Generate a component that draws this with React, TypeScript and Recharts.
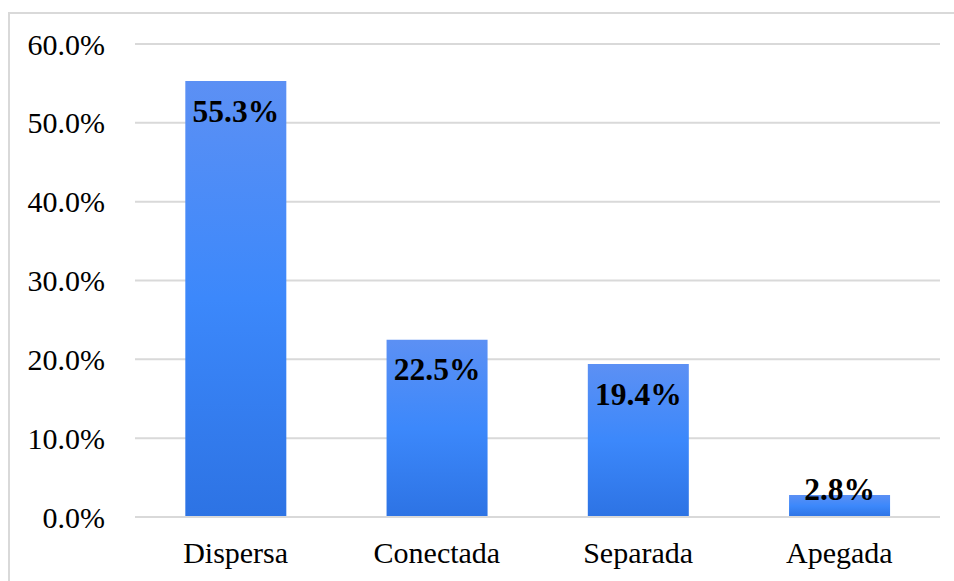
import { BarChart, Bar, XAxis, YAxis, CartesianGrid, LabelList } from "recharts";

const categories = ["Dispersa", "Conectada", "Separada", "Apegada"];
const shares = [55.3, 22.5, 19.4, 2.8];
const yTicks = [0, 10, 20, 30, 40, 50, 60];

const data = categories.map((name, i) => ({ name, value: shares[i] }));

const FONT = "'Liberation Serif', 'Times New Roman', serif";

function YTick(props: any) {
  const { x, y, payload } = props;
  return (
    <text x={x} y={y} textAnchor="end" dominantBaseline="central" fontFamily={FONT} fontSize={30} fill="#000">
      {payload.value.toFixed(1)}%
    </text>
  );
}

function XTick(props: any) {
  const { x, y, payload } = props;
  return (
    <text x={x} y={y + 27} textAnchor="middle" dominantBaseline="central" fontFamily={FONT} fontSize={30} fill="#000">
      {payload.value}
    </text>
  );
}

function BarLabel(props: any) {
  const { x, y, width, height, value } = props;
  const cy = Math.min(y + 30, y + height - 28);
  return (
    <text
      x={x + width / 2}
      y={cy}
      textAnchor="middle"
      dominantBaseline="central"
      fontFamily={FONT}
      fontSize={31.5}
      fontWeight="bold"
      fill="#000"
    >
      {value.toFixed(1)}%
    </text>
  );
}

export default function App() {
  return (
    <div style={{ position: "fixed", left: 0, top: 0, width: 954, height: 581, overflow: "hidden", background: "#fff" }}>
      <div
        style={{
          position: "absolute",
          left: 8,
          top: 12,
          width: 1000,
          height: 700,
          borderTop: "2px solid #d9d9d9",
          borderLeft: "2px solid #d9d9d9",
        }}
      />
      <div style={{ position: "absolute", left: 0, top: 0 }}>
        <BarChart width={954} height={581} data={data} margin={{ top: 44, right: 14, bottom: 4, left: 0 }} barCategoryGap="25%">
          <defs>
            <linearGradient id="barGrad" x1="0" y1="0" x2="0" y2="1">
              <stop offset="0%" stopColor="#5c90f4" />
              <stop offset="50%" stopColor="#3c88fb" />
              <stop offset="100%" stopColor="#2d73e4" />
            </linearGradient>
          </defs>
          <CartesianGrid vertical={false} stroke="#d9d9d9" strokeWidth={2} />
          <XAxis
            dataKey="name"
            height={60}
            axisLine={{ stroke: "#d9d9d9", strokeWidth: 2 }}
            tickLine={false}
            tick={<XTick />}
            interval={0}
          />
          <YAxis
            width={135}
            domain={[0, 60]}
            ticks={yTicks}
            axisLine={false}
            tickLine={false}
            tickSize={0}
            tick={<YTick />}
            tickMargin={30}
          />
          <Bar dataKey="value" fill="url(#barGrad)" isAnimationActive={false}>
            <LabelList dataKey="value" content={<BarLabel />} />
          </Bar>
        </BarChart>
      </div>
    </div>
  );
}
